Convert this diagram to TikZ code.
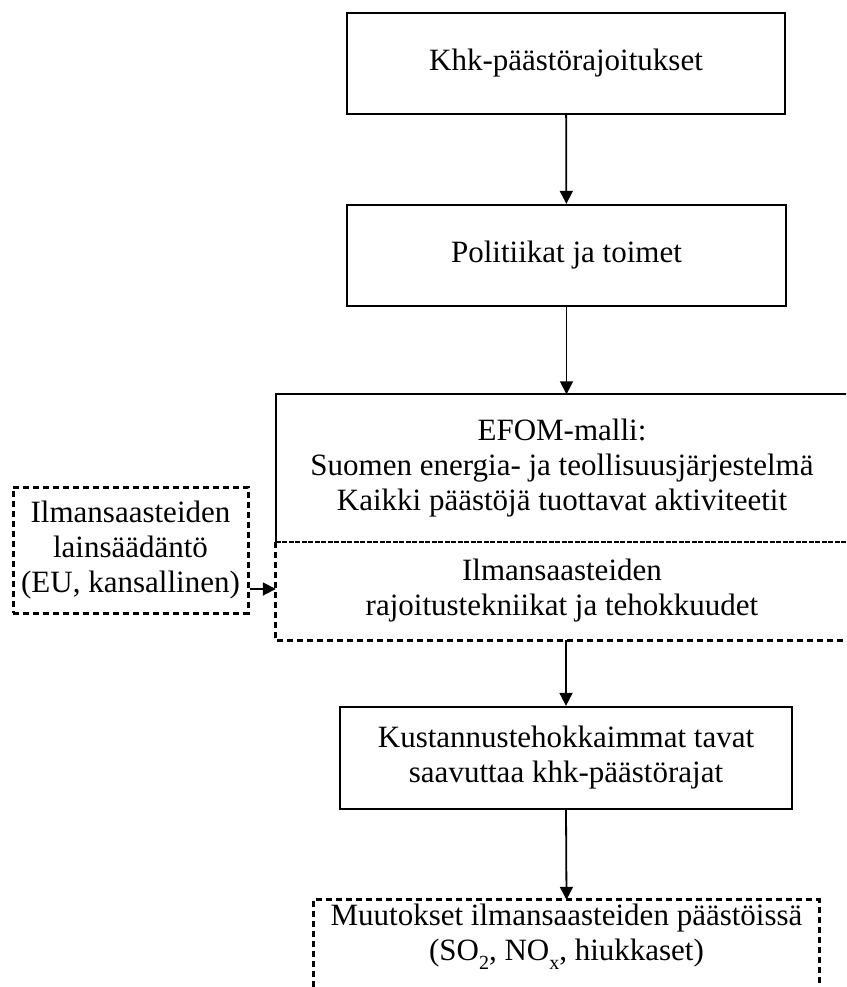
\documentclass[tikz,border=0pt]{standalone}
\usepackage{fontspec}
\setmainfont{Liberation Serif}
\usetikzlibrary{arrows.meta}
\newcommand{\lowsub}[1]{\raisebox{-0.28em}{\fontsize{20}{20}\selectfont #1}}
\begin{document}
\begin{tikzpicture}[x=1pt,y=-1pt,
 txt/.style={align=center, inner sep=0pt, font=\fontsize{31}{35}\selectfont},
 box/.style={txt, draw, line width=2.3pt},
 dotbox/.style={txt, draw, line width=3pt, dash pattern=on 6pt off 4pt},
 dotline/.style={line width=3pt, dash pattern=on 6pt off 4pt},
 solidline/.style={line width=2.3pt},
 divline/.style={line width=2.3pt, dash pattern=on 5pt off 1.5pt},
 arr/.style={line width=1.8pt, -{Triangle[length=13pt,width=13pt]}}]
\useasboundingbox (0,0) rectangle (846,987);
\clip (0,0) rectangle (846,987);
\node[box, minimum width=438pt, minimum height=101pt] (khk) at (566,63.5) {Khk-päästörajoitukset};
\node[box, minimum width=439pt, minimum height=101pt] (pol) at (566.5,255.5) {Politiikat ja toimet};
\node[txt, minimum width=572pt, minimum height=147pt] (efom) at (562,468) {EFOM-malli:\\Suomen energia- ja teollisuusjärjestelmä\\Kaikki päästöjä tuottavat aktiviteetit};
\node[txt, minimum width=572pt, minimum height=98pt] (tech) at (562,591) {Ilmansaasteiden\\rajoitustekniikat ja tehokkuudet};
\draw[dotline] (tech.north west) -- (tech.south west) -- (tech.south east) -- (tech.north east);
\draw[solidline] (efom.south west) -- (efom.north west) -- (efom.north east) -- (efom.south east);
\draw[divline] (efom.south west) -- (efom.south east);
\node[dotbox, minimum width=235pt, minimum height=126pt] (law) at (130.5,550) {Ilmansaasteiden\\lainsäädäntö\\(EU, kansallinen)};
\node[box, minimum width=452pt, minimum height=102pt] (kust) at (566,758) {Kustannustehokkaimmat tavat\\saavuttaa khk-päästörajat};
\node[txt, minimum width=505pt, minimum height=100pt] (muut) at (566.5,937) {Muutokset ilmansaasteiden päästöissä\\(SO\lowsub{2}, NO\lowsub{x}, hiukkaset)};
\draw[dotline] (muut.south west) -- ([yshift=-13pt]muut.north west) -- ([yshift=-13pt]muut.north east) -- (muut.south east);
\coordinate (muuttop) at ([yshift=-13pt]muut.north);
\coordinate (lawout) at ([yshift=-39pt]law.east);
\draw[arr] (khk) -- (pol);
\draw[arr] (pol.south) -- (pol.south |- efom.north);
\draw[arr] (kust.north |- tech.south) -- (kust.north);
\draw[arr] (kust.south) -- (muuttop);
\draw[arr] (lawout) -- (tech.west |- lawout);
\end{tikzpicture}
\end{document}
